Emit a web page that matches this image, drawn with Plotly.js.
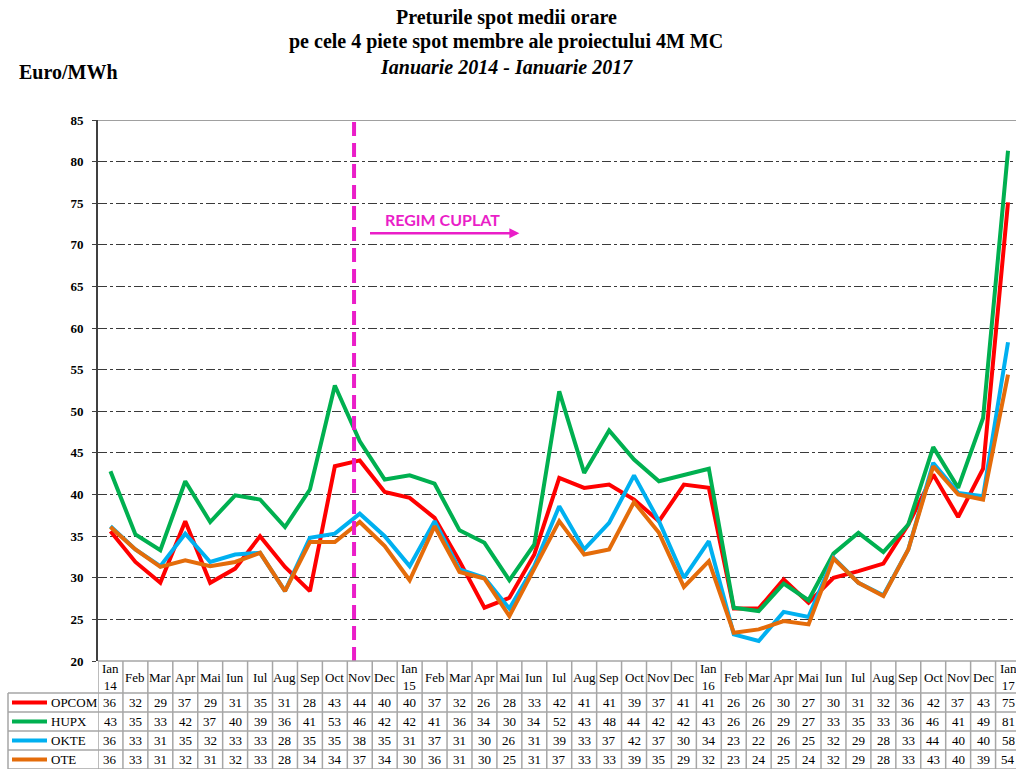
<!DOCTYPE html>
<html>
<head>
<meta charset="utf-8">
<script src="https://cdn.plot.ly/plotly-3.0.1.min.js"></script>
<style>
  html, body { margin: 0; padding: 0; background: #fff; overflow: hidden; }
</style>
</head>
<body>
<div id="plot" style="width:1016px;height:769px;"></div>
<script>
// Month labels (table header / x categories)
const months = [
  "Ian<br>14", "Feb", "Mar", "Apr", "Mai", "Iun", "Iul", "Aug", "Sep", "Oct", "Nov", "Dec",
  "Ian<br>15", "Feb", "Mar", "Apr", "Mai", "Iun", "Iul", "Aug", "Sep", "Oct", "Nov", "Dec",
  "Ian<br>16", "Feb", "Mar", "Apr", "Mai", "Iun", "Iul", "Aug", "Sep", "Oct", "Nov", "Dec",
  "Ian<br>17"
];

// Average hourly spot prices, Euro/MWh
const opcom = [35.6, 31.9, 29.4, 36.8, 29.4, 31.1, 35.0, 31.3, 28.4, 43.4, 44.1, 40.3,
  39.6, 37.2, 32.0, 26.4, 27.6, 32.8, 42.0, 40.8, 41.2, 39.4, 36.8, 41.2,
  40.8, 26.3, 26.3, 29.8, 27.0, 30.0, 30.8, 31.7, 36.4, 42.4, 37.3, 43.1, 75.1];
const hupx = [42.8, 35.2, 33.3, 41.6, 36.7, 39.9, 39.4, 36.1, 40.6, 53.1, 46.4, 41.8,
  42.3, 41.3, 35.7, 34.2, 29.7, 34.0, 52.4, 42.6, 47.7, 44.2, 41.6, 42.3,
  43.1, 26.4, 26.0, 29.3, 27.3, 32.9, 35.4, 33.1, 36.4, 45.7, 40.8, 49.2, 81.3];
const okte = [36.2, 33.4, 31.4, 35.3, 31.9, 32.8, 33.0, 28.4, 34.8, 35.3, 37.7, 35.0,
  31.4, 36.8, 31.0, 30.0, 26.3, 31.4, 38.6, 33.4, 36.6, 42.3, 36.8, 30.0,
  34.4, 23.2, 22.4, 25.9, 25.3, 32.4, 29.4, 27.9, 33.4, 43.8, 40.2, 39.8, 58.3];
const ote = [36.1, 33.4, 31.3, 32.1, 31.4, 31.9, 33.0, 28.4, 34.3, 34.3, 36.7, 33.8,
  29.7, 36.2, 30.7, 29.9, 25.4, 31.0, 36.8, 32.8, 33.4, 39.1, 35.4, 28.9,
  32.0, 23.4, 23.8, 24.8, 24.4, 32.3, 29.4, 27.8, 33.4, 43.4, 40.0, 39.4, 54.4];

const seriesNames = ["OPCOM", "HUPX", "OKTE", "OTE"];
const seriesData = [opcom, hupx, okte, ote];
const seriesColors = ["#ff0000", "#00b050", "#00b0f0", "#e46c0a"];

// where the coupled regime starts (between Oct and Nov 2014)
const couplingX = 9.77;

const idx = months.map((m, i) => i);

// page geometry helpers
const L = 98, T = 120, B = 661, W = 1016 - L, H = B - T;
const px = (v) => (v - L) / W;
const py = (v) => (B - v) / H;

const serif = "Liberation Serif, Times New Roman, serif";
const magenta = "#ea1ec8";
const border = "#a6a6a6";

const traces = seriesData.map((d, s) => ({
  x: idx,
  y: d,
  type: "scatter",
  mode: "lines",
  name: seriesNames[s],
  line: { color: seriesColors[s], width: 4 },
  hoverinfo: "skip",
}));

const shapes = [];
const annotations = [];

// top border
shapes.push({ type: "line", xref: "paper", yref: "y", x0: 0, x1: 1, y0: 85, y1: 85,
  line: { color: "#a0a0a0", width: 2 } });

// coupling marker
shapes.push({ type: "line", xref: "x", yref: "y", x0: couplingX, x1: couplingX, y0: 20, y1: 85,
  layer: "above", line: { color: magenta, width: 4, dash: "14px,7px" } });

// data table grid
const rowEdges = [661, 693, 712, 731, 750, 769];
for (let k = -1; k < months.length; k++) {
  shapes.push({ type: "line", xref: "x", yref: "paper", x0: k + 0.5, x1: k + 0.5,
    y0: py(661), y1: py(769), line: { color: border, width: 1.5 } });
}
shapes.push({ type: "line", xref: "paper", yref: "paper", x0: px(8), x1: px(8),
  y0: py(693), y1: py(769), line: { color: border, width: 1.5 } });
shapes.push({ type: "line", xref: "x", yref: "paper", x0: -0.5, x1: 37, y0: py(661), y1: py(661),
  line: { color: border, width: 1.5 } });
rowEdges.slice(1).forEach((r) => {
  shapes.push({ type: "line", xref: "paper", yref: "paper", x0: px(8), x1: 1.05, y0: py(r), y1: py(r),
    line: { color: border, width: 1.5 } });
});

// header labels
months.forEach((m, i) => {
  annotations.push({ x: i, y: py(677), xref: "x", yref: "paper", text: m, showarrow: false,
    xanchor: "center", yanchor: "middle", font: { family: serif, size: 13, color: "#000" } });
});

// rows: legend key + rounded values
seriesData.forEach((d, s) => {
  const yc = py((rowEdges[s + 1] + rowEdges[s + 2]) / 2);
  shapes.push({ type: "line", xref: "paper", yref: "paper", x0: px(12), x1: px(47), y0: yc, y1: yc,
    line: { color: seriesColors[s], width: 4 } });
  annotations.push({ x: px(49), y: yc, xref: "paper", yref: "paper", text: seriesNames[s],
    showarrow: false, xanchor: "left", yanchor: "middle",
    font: { family: serif, size: 13, color: "#000" } });
  d.forEach((v, i) => {
    annotations.push({ x: i, y: yc, xref: "x", yref: "paper", text: String(Math.round(v)),
      showarrow: false, xanchor: "center", yanchor: "middle",
      font: { family: serif, size: 13, color: "#000" } });
  });
});

// titles
const titleLines = [
  ["<b>Preturile spot medii orare</b>", 17],
  ["<b>pe cele 4 piete spot membre ale proiectului 4M MC</b>", 42],
  ["<b><i>Ianuarie 2014 - Ianuarie 2017</i></b>", 67],
];
titleLines.forEach(([t, y]) => {
  annotations.push({ x: px(506), y: py(y), xref: "paper", yref: "paper", text: t, showarrow: false,
    xanchor: "center", yanchor: "middle", font: { family: serif, size: 20, color: "#000" } });
});
annotations.push({ x: px(17), y: py(72), xref: "paper", yref: "paper", text: "<b>Euro/MWh</b>",
  showarrow: false, xanchor: "left", yanchor: "middle", font: { family: serif, size: 20, color: "#000" } });

// coupled regime label and arrow
annotations.push({ x: 13.3, y: 73.1, xref: "x", yref: "y", text: "<b>REGIM CUPLAT</b>", showarrow: false,
  xanchor: "center", yanchor: "middle", font: { family: "Lato, Open Sans, sans-serif", size: 16, color: magenta } });
annotations.push({ x: 16.4, y: 71.4, ax: 10.35, ay: 71.4, xref: "x", yref: "y", axref: "x", ayref: "y",
  text: "", showarrow: true, arrowhead: 2, arrowsize: 0.8, arrowwidth: 2.5, arrowcolor: magenta });

const layout = {
  width: 1016,
  height: 769,
  margin: { l: L, r: 0, t: T, b: 769 - B },
  paper_bgcolor: "#fff",
  plot_bgcolor: "#fff",
  showlegend: false,
  xaxis: {
    range: [-0.5, 36.32],
    showticklabels: false,
    showgrid: false,
    zeroline: false,
    showline: false,
    ticks: "",
    fixedrange: true,
  },
  yaxis: {
    range: [20, 85],
    tick0: 20,
    dtick: 5,
    showgrid: true,
    gridcolor: "#3a3a3a",
    gridwidth: 1,
    griddash: "dashdot",
    zeroline: false,
    showline: true,
    linecolor: "#404040",
    linewidth: 2,
    ticks: "outside",
    ticklen: 4,
    tickcolor: "#404040",
    ticklabelstandoff: 6,
    tickfont: { family: serif, size: 13, color: "#000", weight: "bold" },
    fixedrange: true,
  },
  shapes: shapes,
  annotations: annotations,
};

Plotly.newPlot("plot", traces, layout, { displayModeBar: false, staticPlot: true });
</script>
</body>
</html>
